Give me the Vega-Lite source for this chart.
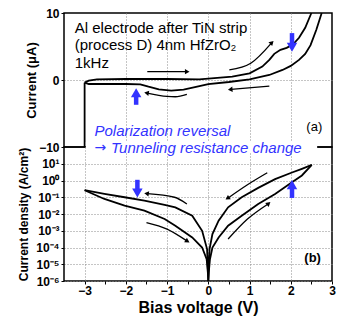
{
  "$schema": "https://vega.github.io/schema/vega-lite/v6.json",
  "padding": {"left": 16, "top": 6, "right": 5, "bottom": 0},
  "spacing": 0,
  "bounds": "flush",
  "config": {
    "font": "Liberation Sans",
    "view": {"stroke": "black", "strokeWidth": 1.5},
    "axis": {
      "labelFont": "Liberation Sans", "labelFontWeight": "bold", "labelFontSize": 12, "labelColor": "black",
      "titleFont": "Liberation Sans", "titleFontWeight": "bold", "titleColor": "black",
      "tickColor": "black", "tickSize": 3, "domain": false,
      "gridColor": "#8a8a8a", "gridDash": [1, 2]
    }
  },
  "datasets": {
    "topLoop": [
      {"s": "edge", "v": -3, "i": -10}, {"s": "edge", "v": -3, "i": -0.4},
      {"s": "fwd", "v": -3, "i": -0.4}, {"s": "fwd", "v": -2.9, "i": -0.1}, {"s": "fwd", "v": -2.7, "i": 0.1},
      {"s": "fwd", "v": -2, "i": 0.15}, {"s": "fwd", "v": -1, "i": 0.15}, {"s": "fwd", "v": -0.22, "i": 0.1},
      {"s": "fwd", "v": 0, "i": 0.2}, {"s": "fwd", "v": 0.58, "i": 0.5}, {"s": "fwd", "v": 1.0, "i": 1.0},
      {"s": "fwd", "v": 1.31, "i": 2.0}, {"s": "fwd", "v": 1.48, "i": 3.0}, {"s": "fwd", "v": 1.6, "i": 3.9},
      {"s": "fwd", "v": 1.75, "i": 4.5}, {"s": "fwd", "v": 1.9, "i": 4.8}, {"s": "fwd", "v": 2.05, "i": 5.3},
      {"s": "fwd", "v": 2.2, "i": 6.3}, {"s": "fwd", "v": 2.35, "i": 7.8}, {"s": "fwd", "v": 2.5, "i": 10},
      {"s": "rev", "v": 2.75, "i": 10}, {"s": "rev", "v": 2.62, "i": 7.5}, {"s": "rev", "v": 2.48, "i": 5.2},
      {"s": "rev", "v": 2.35, "i": 3.9}, {"s": "rev", "v": 2.2, "i": 3.0}, {"s": "rev", "v": 2.0, "i": 2.1},
      {"s": "rev", "v": 1.8, "i": 1.5}, {"s": "rev", "v": 1.48, "i": 0.75}, {"s": "rev", "v": 1.0, "i": 0.1},
      {"s": "rev", "v": 0.5, "i": -0.3}, {"s": "rev", "v": 0, "i": -0.6}, {"s": "rev", "v": -0.27, "i": -1.0},
      {"s": "rev", "v": -0.6, "i": -1.45}, {"s": "rev", "v": -0.9, "i": -1.6}, {"s": "rev", "v": -1.2, "i": -1.4},
      {"s": "rev", "v": -1.45, "i": -1.0}, {"s": "rev", "v": -1.65, "i": -0.65}, {"s": "rev", "v": -2, "i": -0.6},
      {"s": "rev", "v": -2.9, "i": -0.6}, {"s": "rev", "v": -3, "i": -0.4}
    ],
    "botLoop": [
      {"s": "fwd", "v": -3, "j": 0.263}, {"s": "fwd", "v": -2.52, "j": 0.079}, {"s": "fwd", "v": -2.03, "j": 0.0316},
      {"s": "fwd", "v": -1.55, "j": 0.0158}, {"s": "fwd", "v": -1.06, "j": 0.005}, {"s": "fwd", "v": -0.8, "j": 0.002},
      {"s": "fwd", "v": -0.39, "j": 0.0004}, {"s": "fwd", "v": -0.15, "j": 0.0001}, {"s": "fwd", "v": -0.04, "j": 0.00002},
      {"s": "fwd", "v": -0.01, "j": 0.000003}, {"s": "fwd", "v": 0, "j": 0.000001}, {"s": "fwd", "v": 0.01, "j": 0.000003},
      {"s": "fwd", "v": 0.04, "j": 0.00002}, {"s": "fwd", "v": 0.1, "j": 0.0001}, {"s": "fwd", "v": 0.25, "j": 0.0004},
      {"s": "fwd", "v": 0.48, "j": 0.002}, {"s": "fwd", "v": 0.81, "j": 0.0079}, {"s": "fwd", "v": 1.21, "j": 0.04},
      {"s": "fwd", "v": 1.62, "j": 0.158}, {"s": "fwd", "v": 2.03, "j": 0.79}, {"s": "fwd", "v": 2.27, "j": 2.0},
      {"s": "fwd", "v": 2.51, "j": 8.5},
      {"s": "rev", "v": 2.51, "j": 8.5}, {"s": "rev", "v": 2.27, "j": 5.0}, {"s": "rev", "v": 2.03, "j": 3.0},
      {"s": "rev", "v": 1.62, "j": 1.2}, {"s": "rev", "v": 1.21, "j": 0.363}, {"s": "rev", "v": 0.81, "j": 0.1},
      {"s": "rev", "v": 0.48, "j": 0.025}, {"s": "rev", "v": 0.25, "j": 0.004}, {"s": "rev", "v": 0.1, "j": 0.00063},
      {"s": "rev", "v": 0.03, "j": 0.00008}, {"s": "rev", "v": 0.01, "j": 0.000005}, {"s": "rev", "v": 0, "j": 0.000001},
      {"s": "rev", "v": -0.01, "j": 0.000005}, {"s": "rev", "v": -0.03, "j": 0.00008}, {"s": "rev", "v": -0.15, "j": 0.001},
      {"s": "rev", "v": -0.39, "j": 0.0079}, {"s": "rev", "v": -0.8, "j": 0.025}, {"s": "rev", "v": -1.06, "j": 0.035},
      {"s": "rev", "v": -1.55, "j": 0.063}, {"s": "rev", "v": -2.03, "j": 0.1}, {"s": "rev", "v": -2.52, "j": 0.158},
      {"s": "rev", "v": -3, "j": 0.263}
    ],
    "arrTop": [
      {"a": "A1", "v": -1.48, "i": 1.25}, {"a": "A1", "v": -0.53, "i": 1.25},
      {"a": "A2", "v": 0.51, "i": 1.5}, {"a": "A2", "v": 1.03, "i": 2.5}, {"a": "A2", "v": 1.53, "i": 5.5},
      {"a": "A3", "v": 1.48, "i": -0.9}, {"a": "A3", "v": 0.55, "i": -1.4},
      {"a": "A4", "v": -0.52, "i": -2.15}, {"a": "A4", "v": -0.8, "i": -2.5}, {"a": "A4", "v": -1.0, "i": -2.45}, {"a": "A4", "v": -1.48, "i": -1.95}
    ],
    "arrBot": [
      {"a": "B1", "v": 1.43, "j": 2.9}, {"a": "B1", "v": 0.95, "j": 0.56}, {"a": "B1", "v": 0.48, "j": 0.091},
      {"a": "B2", "v": 0.48, "j": 0.00032}, {"a": "B2", "v": 0.95, "j": 0.005}, {"a": "B2", "v": 1.45, "j": 0.04},
      {"a": "B3", "v": -0.52, "j": 0.04}, {"a": "B3", "v": -0.82, "j": 0.1}, {"a": "B3", "v": -1.48, "j": 0.166},
      {"a": "B4", "v": -1.5, "j": 0.0031}, {"a": "B4", "v": -1.0, "j": 0.00126}, {"a": "B4", "v": -0.52, "j": 0.00025}
    ],
    "blueTop": [
      {"dir": "up", "v": -1.75, "y0": -3.7, "y1": -2.4, "h": -1.9},
      {"dir": "down", "v": 2.03, "y0": 7.0, "y1": 5.5, "h": 4.9}
    ],
    "blueBot": [
      {"dir": "down", "v": -1.72, "y0": 1.1, "y1": 0.3, "h": 0.178},
      {"dir": "up", "v": 2.03, "y0": 0.091, "y1": 0.33, "h": 0.57}
    ]
  },
  "vconcat": [
    {
      "width": 268, "height": 134,
      "encoding": {
        "x": {"field": "v", "type": "quantitative", "scale": {"domain": [-3.5, 3], "nice": false, "zero": false},
          "axis": {"values": [-3, -2, -1, 0, 1, 2, 3], "labels": false, "ticks": false, "title": null, "grid": true,
            "gridOpacity": {"condition": {"test": "abs(datum.value) < 2.5", "value": 1}, "value": 0}}}
      },
      "layer": [
        {
          "data": {"name": "topLoop"},
          "mark": {"type": "line", "color": "black", "strokeWidth": 1.8},
          "encoding": {
            "y": {"field": "i", "type": "quantitative", "scale": {"domain": [-10, 10], "nice": false},
              "axis": {"values": [-10, -5, 0, 5, 10], "labelExpr": "datum.value % 10 == 0 ? format(datum.value, 'd') : ''",
                "grid": true, "gridOpacity": {"condition": {"test": "datum.value == 0", "value": 1}, "value": 0},
                "title": "Current (μA)", "titleFontSize": 13, "titlePadding": 0, "labelPadding": 2}},
            "detail": {"field": "s"},
            "order": {"value": null}
          }
        },
        {
          "data": {"name": "arrTop"},
          "mark": {"type": "line", "color": "black", "strokeWidth": 1.3, "interpolate": "monotone"},
          "encoding": {"y": {"field": "i", "type": "quantitative"}, "detail": {"field": "a"}, "order": {"value": null}}
        },
        {
          "data": {"values": [{"v": -0.53, "i": 1.25}]},
          "mark": {"type": "point", "shape": "triangle", "filled": true, "color": "black", "size": 28, "angle": 90, "opacity": 1},
          "encoding": {"y": {"field": "i", "type": "quantitative"}}
        },
        {
          "data": {"values": [{"v": 1.53, "i": 5.5}]},
          "mark": {"type": "point", "shape": "triangle", "filled": true, "color": "black", "size": 28, "angle": 45, "opacity": 1},
          "encoding": {"y": {"field": "i", "type": "quantitative"}}
        },
        {
          "data": {"values": [{"v": 0.55, "i": -1.4}]},
          "mark": {"type": "point", "shape": "triangle", "filled": true, "color": "black", "size": 28, "angle": 265, "opacity": 1},
          "encoding": {"y": {"field": "i", "type": "quantitative"}}
        },
        {
          "data": {"values": [{"v": -1.48, "i": -1.95}]},
          "mark": {"type": "point", "shape": "triangle", "filled": true, "color": "black", "size": 28, "angle": 280, "opacity": 1},
          "encoding": {"y": {"field": "i", "type": "quantitative"}}
        },
        {
          "data": {"name": "blueTop"},
          "mark": {"type": "rule", "color": "#3333ff", "strokeWidth": 4.5},
          "encoding": {"y": {"field": "y0", "type": "quantitative"}, "y2": {"field": "y1"}}
        },
        {
          "data": {"name": "blueTop"},
          "transform": [{"filter": "datum.dir == 'up'"}],
          "mark": {"type": "point", "shape": "triangle-up", "filled": true, "color": "#3333ff", "size": 110, "opacity": 1},
          "encoding": {"y": {"field": "h", "type": "quantitative"}}
        },
        {
          "data": {"name": "blueTop"},
          "transform": [{"filter": "datum.dir == 'down'"}],
          "mark": {"type": "point", "shape": "triangle-down", "filled": true, "color": "#3333ff", "size": 110, "opacity": 1},
          "encoding": {"y": {"field": "h", "type": "quantitative"}}
        },
        {
          "data": {"values": [
            {"t": "Al electrode after TiN strip", "v": -3.24, "i": 7.76},
            {"t": "(process D) 4nm HfZrO₂", "v": -3.24, "i": 5.2},
            {"t": "1kHz", "v": -3.24, "i": 2.5}
          ]},
          "mark": {"type": "text", "align": "left", "baseline": "middle", "fontSize": 15, "color": "black", "font": "Liberation Sans"},
          "encoding": {"y": {"field": "i", "type": "quantitative"}, "text": {"field": "t"}}
        },
        {
          "data": {"values": [{"t": "(a)", "v": 2.57, "i": -6.97}]},
          "mark": {"type": "text", "align": "center", "baseline": "middle", "fontSize": 13, "color": "black", "font": "Liberation Sans"},
          "encoding": {"y": {"field": "i", "type": "quantitative"}, "text": {"field": "t"}}
        }
      ]
    },
    {
      "width": 268, "height": 134,
      "encoding": {
        "x": {"field": "v", "type": "quantitative", "scale": {"domain": [-3.5, 3], "nice": false, "zero": false},
          "axis": {"values": [-3, -2.5, -2, -1.5, -1, -0.5, 0, 0.5, 1, 1.5, 2, 2.5, 3],
            "labelExpr": "datum.value % 1 == 0 ? format(datum.value, 'd') : ''",
            "grid": true, "gridOpacity": {"condition": {"test": "datum.value % 1 == 0 && datum.value < 3", "value": 1}, "value": 0},
            "title": "Bias voltage (V)", "titleFontSize": 16, "labelPadding": 1, "titlePadding": 3, "labelFlush": false}}
      },
      "layer": [
        {
          "data": {"values": [{"v": -2.97, "v2": 2.64, "j": 50, "j2": 200}]},
          "mark": {"type": "rect", "color": "white", "opacity": 1},
          "encoding": {"x2": {"field": "v2"}, "y": {"field": "j", "type": "quantitative"}, "y2": {"field": "j2"}}
        },
        {
          "data": {"values": [
            {"t": "Polarization reversal", "v": -2.76, "j": 912},
            {"t": "Tunneling resistance change", "v": -2.36, "j": 93}
          ]},
          "mark": {"type": "text", "align": "left", "baseline": "middle", "fontSize": 15, "fontStyle": "italic", "color": "#3333ff", "font": "Liberation Sans"},
          "encoding": {"y": {"field": "j", "type": "quantitative"}, "text": {"field": "t"}}
        },
        {
          "data": {"values": [{"t": "→", "v": -2.76, "j": 93}]},
          "mark": {"type": "text", "align": "left", "baseline": "middle", "fontSize": 14, "color": "#3333ff", "font": "DejaVu Sans"},
          "encoding": {"y": {"field": "j", "type": "quantitative"}, "text": {"field": "t"}}
        },
        {
          "data": {"name": "botLoop"},
          "mark": {"type": "line", "color": "black", "strokeWidth": 1.8},
          "encoding": {
            "y": {"field": "j", "type": "quantitative", "scale": {"type": "log", "domain": [0.000001, 100], "nice": false},
              "axis": {"values": [0.000001, 0.00001, 0.0001, 0.001, 0.01, 0.1, 1, 10],
                "labelExpr": "['10⁻⁶','10⁻⁵','10⁻⁴','10⁻³','10⁻²','10⁻¹','10⁰','10¹','10²'][round(log(datum.value)/LN10)+6]",
                "grid": true, "title": "Current density (A/cm²)", "titleFontSize": 12, "titlePadding": 5, "labelPadding": 2}},
            "detail": {"field": "s"},
            "order": {"value": null}
          }
        },
        {
          "data": {"name": "arrBot"},
          "mark": {"type": "line", "color": "black", "strokeWidth": 1.3, "interpolate": "monotone"},
          "encoding": {"y": {"field": "j", "type": "quantitative"}, "detail": {"field": "a"}, "order": {"value": null}}
        },
        {
          "data": {"values": [{"v": 0.48, "j": 0.091}]},
          "mark": {"type": "point", "shape": "triangle", "filled": true, "color": "black", "size": 28, "angle": 237, "opacity": 1},
          "encoding": {"y": {"field": "j", "type": "quantitative"}}
        },
        {
          "data": {"values": [{"v": 1.45, "j": 0.04}]},
          "mark": {"type": "point", "shape": "triangle", "filled": true, "color": "black", "size": 28, "angle": 49, "opacity": 1},
          "encoding": {"y": {"field": "j", "type": "quantitative"}}
        },
        {
          "data": {"values": [{"v": -1.48, "j": 0.166}]},
          "mark": {"type": "point", "shape": "triangle", "filled": true, "color": "black", "size": 28, "angle": 278, "opacity": 1},
          "encoding": {"y": {"field": "j", "type": "quantitative"}}
        },
        {
          "data": {"values": [{"v": -0.52, "j": 0.00025}]},
          "mark": {"type": "point", "shape": "triangle", "filled": true, "color": "black", "size": 28, "angle": 121, "opacity": 1},
          "encoding": {"y": {"field": "j", "type": "quantitative"}}
        },
        {
          "data": {"name": "blueBot"},
          "mark": {"type": "rule", "color": "#3333ff", "strokeWidth": 4.5},
          "encoding": {"y": {"field": "y0", "type": "quantitative"}, "y2": {"field": "y1"}}
        },
        {
          "data": {"name": "blueBot"},
          "transform": [{"filter": "datum.dir == 'up'"}],
          "mark": {"type": "point", "shape": "triangle-up", "filled": true, "color": "#3333ff", "size": 110, "opacity": 1},
          "encoding": {"y": {"field": "h", "type": "quantitative"}}
        },
        {
          "data": {"name": "blueBot"},
          "transform": [{"filter": "datum.dir == 'down'"}],
          "mark": {"type": "point", "shape": "triangle-down", "filled": true, "color": "#3333ff", "size": 110, "opacity": 1},
          "encoding": {"y": {"field": "h", "type": "quantitative"}}
        },
        {
          "data": {"values": [{"t": "(b)", "v": 2.53, "j": 0.000025}]},
          "mark": {"type": "text", "align": "center", "baseline": "middle", "fontSize": 13, "fontWeight": "bold", "color": "black", "font": "Liberation Sans"},
          "encoding": {"y": {"field": "j", "type": "quantitative"}, "text": {"field": "t"}}
        }
      ]
    }
  ]
}
